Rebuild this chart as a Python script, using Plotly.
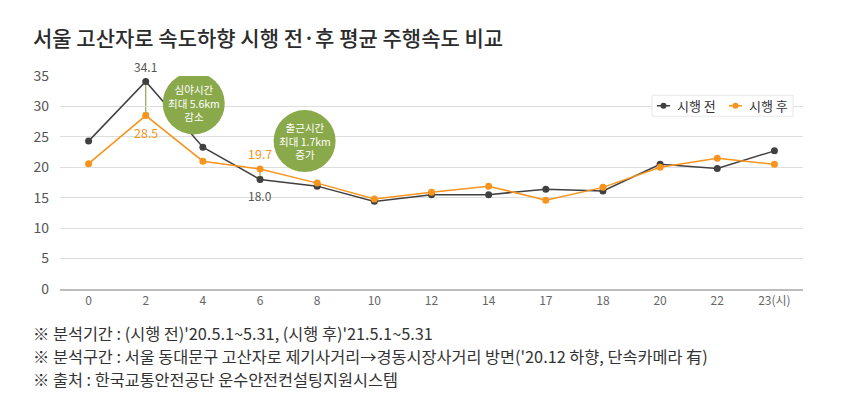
import plotly.graph_objects as go

hours = ["0", "2", "4", "6", "8", "10", "12", "14", "17", "18", "20", "22", "23(시)"]
before = [24.3, 34.1, 23.3, 18.0, 16.9, 14.4, 15.5, 15.5, 16.4, 16.1, 20.5, 19.8, 22.7]
after = [20.6, 28.5, 21.0, 19.7, 17.4, 14.8, 15.9, 16.9, 14.6, 16.7, 20.0, 21.5, 20.5]
y_ticks = [0, 5, 10, 15, 20, 25, 30, 35]
series_names = ["시행 전", "시행 후"]

title = "서울 고산자로 속도하향 시행 전·후 평균 주행속도 비교"
notes = [
    "※ 분석기간 : (시행 전)'20.5.1~5.31, (시행 후)'21.5.1~5.31",
    "※ 분석구간 : 서울 동대문구 고산자로 제기사거리→경동시장사거리 방면('20.12 하향, 단속카메라 有)",
    "※ 출처 : 한국교통안전공단 운수안전컨설팅지원시스템",
]

FONT = "Noto Sans CJK KR"
DARK = "#404040"
ORANGE = "#f7941d"
GREEN = "#8aa94b"

# page offset (body margin) compensation: figure drawn at (8, 8)
OFF = 8
PL, PR, PT, PB = 60, 803, 75.7, 289  # plot area in screenshot pixels
PW, PH = PR - PL, PB - PT


def px(xs):
    return (xs - PL) / PW


def py(ys):
    return (PB - ys) / PH


fig = go.Figure()
colors = [DARK, ORANGE]
for name, vals, col in zip(series_names, [before, after], colors):
    fig.add_trace(go.Scatter(x=list(range(len(hours))), y=vals, mode="lines+markers", name=name,
                             line=dict(color=col, width=1.5), marker=dict(size=7, color=col),
                             showlegend=False))

# green connectors (difference markers)
for i in (1, 3):
    lo, hi = sorted([before[i], after[i]])
    fig.add_shape(type="line", x0=i, x1=i, y0=lo, y1=hi, line=dict(color=GREEN, width=1.2), layer="below")
    fig.add_shape(type="line", xsizemode="pixel", xanchor=i, x0=-3, x1=3, y0=lo + 0.4, y1=lo + 0.4,
                  line=dict(color=GREEN, width=1.2), layer="below")

# data labels
fig.add_annotation(x=1, y=before[1], text=f"{before[1]:.1f}", showarrow=False, yshift=15,
                   font=dict(family=FONT, size=12, color="#555"))
fig.add_annotation(x=1, y=after[1], text=f"{after[1]:.1f}", showarrow=False, yshift=-17,
                   font=dict(family=FONT, size=12.5, color=ORANGE))
fig.add_annotation(x=3, y=after[3], text=f"{after[3]:.1f}", showarrow=False, yshift=16,
                   font=dict(family=FONT, size=12.5, color=ORANGE))
fig.add_annotation(x=3, y=before[3], text=f"{before[3]:.1f}", showarrow=False, yshift=-16,
                   font=dict(family=FONT, size=12, color="#555"))

# green bubbles
bubbles = [(1.84, 30.5, "심야시간<br>최대 5.6km<br>감소"), (3.78, 24.3, "출근시간<br>최대 1.7km<br>증가")]
for bx, by, txt in bubbles:
    fig.add_shape(type="circle", xref="x", yref="y", xsizemode="pixel", ysizemode="pixel",
                  xanchor=bx, yanchor=by, x0=-31, x1=31, y0=-31, y1=31,
                  fillcolor=GREEN, line=dict(width=0))
    fig.add_annotation(x=bx, y=by, text=txt, showarrow=False,
                       font=dict(family=FONT, size=10.5, color="white"))

# manual legend
fig.add_shape(type="rect", xref="paper", yref="paper", x0=px(652), x1=px(793), y0=py(116), y1=py(95),
              fillcolor="white", line=dict(color="#e8e8e8", width=1))
leg_items = [(657, 670, 675, series_names[0], DARK), (729, 742, 747, series_names[1], ORANGE)]
for x0, x1, tx, name, col in leg_items:
    fig.add_shape(type="line", xref="paper", yref="paper", x0=px(x0), x1=px(x1), y0=py(105.5), y1=py(105.5),
                  line=dict(color=col, width=1.5))
    fig.add_shape(type="circle", xref="paper", yref="paper", xsizemode="pixel", ysizemode="pixel",
                  xanchor=px((x0 + x1) / 2), yanchor=py(105.5), x0=-3, x1=3, y0=-3, y1=3,
                  fillcolor=col, line=dict(width=0))
    fig.add_annotation(xref="paper", yref="paper", x=px(tx), y=py(105.5), xanchor="left", yanchor="middle",
                       text=name, showarrow=False, font=dict(family=FONT, size=13, color="#333"))

# title
fig.add_annotation(xref="paper", yref="paper", x=px(31), y=py(37), xanchor="left",
                   yanchor="middle", text=title, showarrow=False,
                   font=dict(family=FONT, size=21, color="#2b2b2b", weight=500))

# footnotes
for k, line in enumerate(notes):
    fig.add_annotation(xref="paper", yref="paper", x=px(31), y=py(333 + 23 * k),
                       xanchor="left", yanchor="middle", text=line, showarrow=False,
                       font=dict(family=FONT, size=16.3, color="#333"))

fig.update_layout(
    width=861 - OFF, height=412 - OFF,
    margin=dict(l=PL - OFF, r=861 - PR, t=PT - OFF, b=412 - PB, autoexpand=False),
    paper_bgcolor="white", plot_bgcolor="white",
    font=dict(family=FONT, color="#555"),
    showlegend=False,
    xaxis=dict(range=[-0.5, len(hours) - 0.5], tickvals=list(range(len(hours))), ticktext=hours,
               showgrid=False, showline=True, zeroline=False, automargin=False,
               linecolor="#bdbdbd", linewidth=2, ticks="", tickfont=dict(size=12, color="#666")),
    yaxis=dict(range=[0, 35], tickvals=y_ticks, showgrid=True, gridcolor="#dedede", gridwidth=1,
               zeroline=False, ticks="", automargin=False, tickfont=dict(size=14, color="#555"),
               ticklabelstandoff=10),
)

fig.write_html("out.html")
